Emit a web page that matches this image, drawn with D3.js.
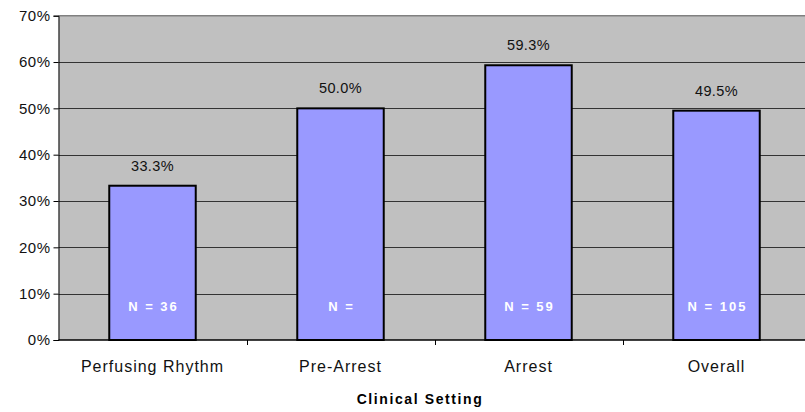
<!DOCTYPE html>
<html>
<head>
<meta charset="utf-8">
<script src="https://cdn.jsdelivr.net/npm/d3@7"></script>
<style>
  html, body { margin: 0; padding: 0; background: #ffffff; }
  svg { display: block; }
  text { font-family: "Liberation Sans", Arial, sans-serif; }
</style>
</head>
<body>
<svg id="chart" width="805" height="412"></svg>
<script>
// Share of patients by clinical setting
const categories = ["Perfusing Rhythm", "Pre-Arrest", "Arrest", "Overall"];
const values = [33.3, 50.0, 59.3, 49.5];
const countLabels = ["N = 36", "N = ", "N = 59", "N = 105"];
const yTicks = [0, 10, 20, 30, 40, 50, 60, 70];
const xTitle = "Clinical Setting";

const svg = d3.select("#chart");
const plot = { left: 58.5, top: 15.7, right: 810.5, bottom: 340 };

const x = d3.scaleBand()
  .domain(categories)
  .range([plot.left, plot.right])
  .paddingInner(0.54)
  .paddingOuter(0.27);

const y = d3.scaleLinear()
  .domain([0, 70])
  .range([plot.bottom, plot.top]);

// plot background
svg.append("rect")
  .attr("x", plot.left)
  .attr("y", plot.top)
  .attr("width", plot.right - plot.left)
  .attr("height", plot.bottom - plot.top)
  .attr("fill", "#c0c0c0");

// horizontal gridlines
svg.append("g")
  .selectAll("line")
  .data(yTicks.filter(d => d > 0 && d < 70))
  .join("line")
  .attr("x1", plot.left)
  .attr("x2", plot.right)
  .attr("y1", d => Math.round(y(d)) + 0.5)
  .attr("y2", d => Math.round(y(d)) + 0.5)
  .attr("stroke", "#333333")
  .attr("stroke-width", 1);

// top border of plot area
svg.append("line")
  .attr("x1", plot.left).attr("x2", plot.right)
  .attr("y1", y(70)).attr("y2", y(70))
  .attr("stroke", "#808080")
  .attr("stroke-width", 1.5);

// bars
svg.append("g")
  .selectAll("rect")
  .data(values)
  .join("rect")
  .attr("x", (d, i) => x(categories[i]))
  .attr("y", d => y(d))
  .attr("width", x.bandwidth())
  .attr("height", d => y(0) - y(d))
  .attr("fill", "#9999ff")
  .attr("stroke", "#000000")
  .attr("stroke-width", 2);

// value labels
svg.append("g")
  .selectAll("text")
  .data(values)
  .join("text")
  .attr("x", (d, i) => x(categories[i]) + x.bandwidth() / 2)
  .attr("y", d => y(d) - 15)
  .attr("text-anchor", "middle")
  .attr("font-size", 14.5)
  .attr("letter-spacing", 0.4)
  .attr("fill", "#111111")
  .text(d => d.toFixed(1) + "%");

// count labels inside bars
svg.append("g")
  .selectAll("text")
  .data(countLabels)
  .join("text")
  .attr("x", (d, i) => x(categories[i]) + x.bandwidth() / 2 + 1)
  .attr("y", 311)
  .attr("text-anchor", "middle")
  .attr("font-size", 13)
  .attr("font-weight", "bold")
  .attr("letter-spacing", 2)
  .attr("fill", "#ffffff")
  .text(d => d);

// y axis
const yAxis = d3.axisLeft(y)
  .tickValues(yTicks)
  .tickSize(5)
  .tickPadding(3)
  .tickFormat(d => d + "%");

const gy = svg.append("g")
  .attr("transform", `translate(${plot.left},0)`)
  .call(yAxis);
gy.select(".domain").attr("stroke", "#000000").attr("stroke-width", 1);
gy.selectAll(".tick line").attr("stroke", "#000000");
gy.selectAll(".tick text")
  .attr("font-size", 15)
  .attr("letter-spacing", 0.5)
  .attr("font-family", "Liberation Sans, Arial, sans-serif")
  .attr("fill", "#111111");

// x axis baseline and category boundary ticks
svg.append("line")
  .attr("x1", plot.left).attr("x2", plot.right)
  .attr("y1", plot.bottom).attr("y2", plot.bottom)
  .attr("stroke", "#000000")
  .attr("stroke-width", 1.5);

const step = x.step();
const boundaries = categories.map((c, i) => x(c) - x.paddingInner() * step / 2).slice(1);
svg.append("g")
  .selectAll("line")
  .data(boundaries)
  .join("line")
  .attr("x1", d => Math.round(d) + 0.5)
  .attr("x2", d => Math.round(d) + 0.5)
  .attr("y1", plot.bottom)
  .attr("y2", plot.bottom + 5)
  .attr("stroke", "#000000");

// category labels
svg.append("g")
  .selectAll("text")
  .data(categories)
  .join("text")
  .attr("x", d => x(d) + x.bandwidth() / 2)
  .attr("y", 372)
  .attr("text-anchor", "middle")
  .attr("font-size", 16)
  .attr("letter-spacing", 1)
  .attr("fill", "#111111")
  .text(d => d);

// axis title
svg.append("text")
  .attr("x", 420)
  .attr("y", 403.5)
  .attr("text-anchor", "middle")
  .attr("font-size", 14)
  .attr("font-weight", "bold")
  .attr("letter-spacing", 1.6)
  .attr("fill", "#000000")
  .text(xTitle);
</script>
</body>
</html>
